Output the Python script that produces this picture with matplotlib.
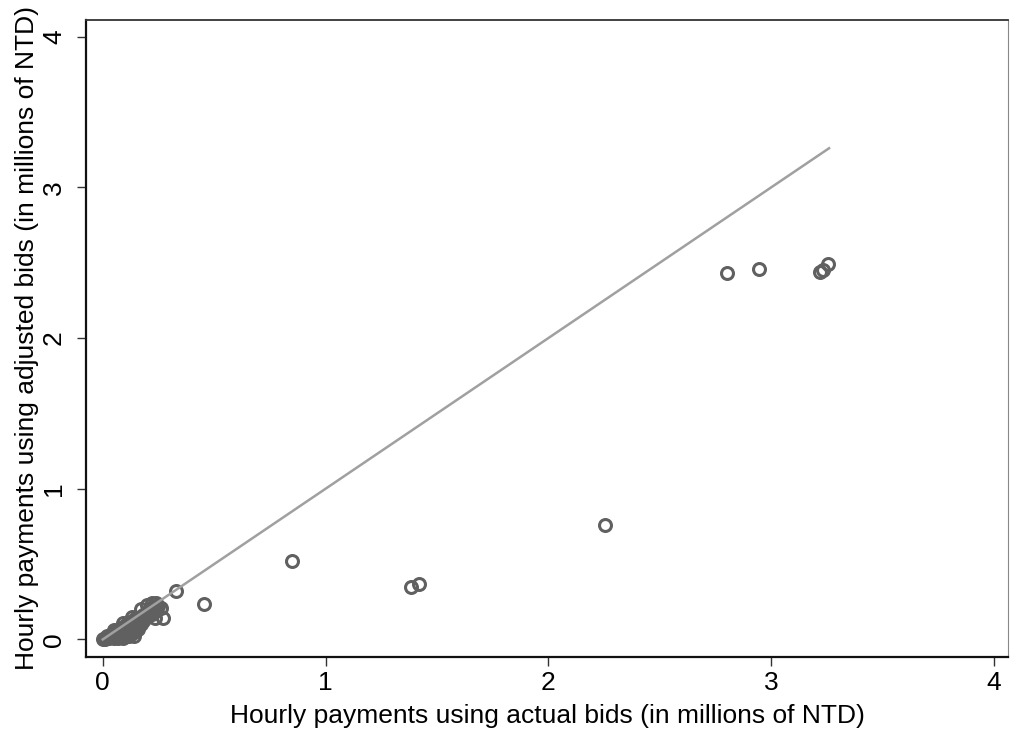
import matplotlib
matplotlib.use("Agg")
import matplotlib.pyplot as plt

# Hourly payments (millions of NTD): actual bids (x) vs adjusted bids (y)
actual_bids = [
    0.00, 0.01, 0.02, 0.02, 0.03, 0.03, 0.04, 0.04, 0.05, 0.05, 0.05, 0.06, 0.06, 0.06,
    0.07, 0.07, 0.07, 0.08, 0.08, 0.08, 0.09, 0.09, 0.09, 0.10, 0.10, 0.10, 0.11, 0.11,
    0.11, 0.12, 0.12, 0.12, 0.12, 0.13, 0.13, 0.13, 0.14, 0.14, 0.14, 0.15, 0.15, 0.15,
    0.16, 0.16, 0.17, 0.17, 0.18, 0.18, 0.19, 0.20, 0.20, 0.21, 0.22, 0.22, 0.23, 0.24,
    0.25, 0.26, 0.24, 0.21, 0.05, 0.09, 0.13, 0.17, 0.20, 0.22, 0.24, 0.14, 0.16, 0.19,
    0.235, 0.27, 0.33, 0.455, 0.85, 1.384, 1.42, 2.255, 2.80, 2.946, 3.22, 3.233, 3.256,
]
adjusted_bids = [
    0.00, 0.005, 0.01, 0.02, 0.01, 0.025, 0.02, 0.035, 0.01, 0.03, 0.045, 0.02, 0.04, 0.055,
    0.01, 0.03, 0.06, 0.02, 0.05, 0.07, 0.01, 0.04, 0.08, 0.02, 0.06, 0.09, 0.03, 0.07,
    0.10, 0.02, 0.05, 0.09, 0.11, 0.04, 0.08, 0.12, 0.02, 0.10, 0.13, 0.07, 0.11, 0.14,
    0.09, 0.13, 0.10, 0.15, 0.12, 0.16, 0.17, 0.18, 0.15, 0.19, 0.20, 0.17, 0.21, 0.22,
    0.22, 0.21, 0.19, 0.21, 0.06, 0.11, 0.15, 0.20, 0.23, 0.24, 0.24, 0.05, 0.07, 0.14,
    0.14, 0.14, 0.32, 0.235, 0.52, 0.347, 0.366, 0.759, 2.43, 2.458, 2.44, 2.45, 2.49,
]

# 45-degree reference line
line_x = [0.0, 3.26]
line_y = [0.0, 3.26]

x_ticks = [0, 1, 2, 3, 4]
y_ticks = [0, 1, 2, 3, 4]
x_label = "Hourly payments using actual bids (in millions of NTD)"
y_label = "Hourly payments using adjusted bids (in millions of NTD)"

plt.rcParams['font.family'] = ['Liberation Sans', 'DejaVu Sans']

fig = plt.figure(figsize=(10.11, 7.33), dpi=100)
ax = fig.add_axes([0.0851, 0.104, 0.9119, 0.8687])

ax.plot(actual_bids, adjusted_bids, linestyle='none', marker='o', markersize=8.6,
        markerfacecolor='none', markeredgecolor='#606060', markeredgewidth=2.2, zorder=2)
ax.plot(line_x, line_y, color='#a0a0a0', linewidth=1.8, zorder=3)

ax.set_xlim(-0.075, 4.063)
ax.set_ylim(-0.115, 4.111)
ax.set_xticks(x_ticks)
ax.set_yticks(y_ticks)
ax.set_xticklabels([str(t) for t in x_ticks], fontsize=19)
ax.set_yticklabels([str(t) for t in y_ticks], fontsize=19, rotation=90, va='center')
ax.tick_params(axis='both', direction='out', length=6.5, width=1.0, color='#333333')
ax.tick_params(axis='x', pad=4)
ax.tick_params(axis='y', pad=8)

ax.set_xlabel(x_label, fontsize=19, labelpad=6)
ax.set_ylabel(y_label, fontsize=19, labelpad=2)

for side in ['left', 'bottom']:
    ax.spines[side].set_linewidth(1.6)
    ax.spines[side].set_color('#111111')
ax.spines['top'].set_linewidth(1.3)
ax.spines['top'].set_color('#333333')
ax.spines['right'].set_linewidth(0.8)
ax.spines['right'].set_color('#888888')

fig.savefig('out.png', dpi=100)
